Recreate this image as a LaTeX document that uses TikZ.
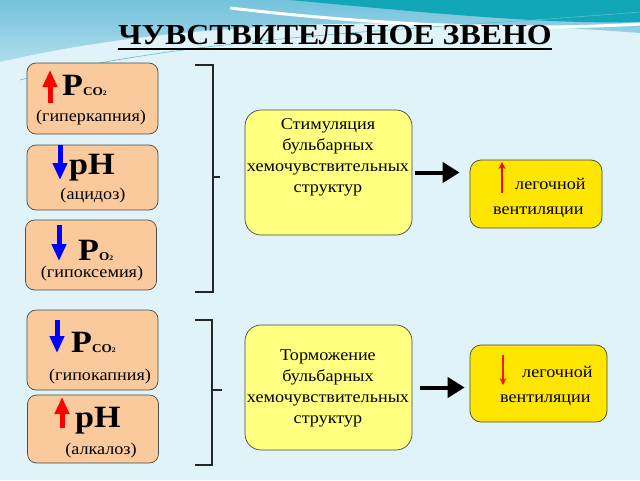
\documentclass[tikz,border=0pt]{standalone}
\usepackage{fontspec}
\setmainfont{Liberation Serif}[FakeStretch=1.1]
\usetikzlibrary{arrows, positioning, arrows.meta, shapes}

\definecolor{bgpale}{HTML}{DFF3F9}
\definecolor{bgsky}{HTML}{74C2DC}
\definecolor{bgteal}{HTML}{12A6B9}
\definecolor{peach}{HTML}{FAC99C}
\definecolor{paleyellow}{HTML}{FFFF80}
\definecolor{gold}{HTML}{FFE600}

\tikzset{
    sensor/.style={draw=gray!60!black, fill=peach, rounded corners=9pt, minimum width=131pt, line width=0.7pt},
    centre/.style={draw=gray!55!black, fill=paleyellow, rounded corners=16pt, minimum width=167pt, minimum height=125pt, line width=0.7pt},
    effect/.style={draw=gray!55!black, fill=gold, rounded corners=11pt, line width=0.7pt},
    big/.style={font=\fontsize{31}{31}\selectfont\bfseries, inner sep=0pt},
    small/.style={font=\fontsize{16.5}{16.5}\selectfont, inner sep=0pt},
    body/.style={font=\fontsize{16.5}{21}\selectfont, align=center, inner sep=0pt},
    fatup/.style={line width=5pt, arrows={-Triangle[length=17pt, width=14pt]}},
    bracket/.style={line width=2.5pt, black!85},
    push/.style={line width=4pt, arrows={-Triangle[length=17pt, width=20pt]}},
}
\newcommand{\gas}[2]{{\fontsize{12}{12}\selectfont\bfseries #1}{\fontsize{7}{7}\selectfont\bfseries #2}}

\begin{document}
\begin{tikzpicture}[x=1pt, y=-1pt]
    % Background
    \useasboundingbox (0,0) rectangle (640,480);
    \fill[bgpale] (0,0) rectangle (640,480);
    \shade[top color=bgsky, bottom color=bgsky!45!bgpale] (0,0) -- (640,0) -- (640,33) .. controls (450,18) and (200,15) .. (0,62) -- cycle;
    \fill[bgteal] (290,0) -- (640,0) -- (640,22) .. controls (540,25) and (400,10) .. (290,0) -- cycle;
    \draw[white, line width=3pt] (230,8) .. controls (400,28) and (540,30) .. (640,24);
    \draw[bgteal!70, line width=0.6pt] (20,80) .. controls (200,35) and (420,30) .. (640,12);

    % Title
    \node[font=\fontsize{29}{29}\selectfont\bfseries, inner sep=0pt, anchor=base] (title) at (335,44) {ЧУВСТВИТЕЛЬНОЕ ЗВЕНО};
    \draw[line width=2pt] ([yshift=-5pt]title.base west) -- ([yshift=-5pt]title.base east);

    % Nodes
    \node[sensor, minimum height=71pt] (hyper box) at (92.5,98.5) {};
    \node[sensor, minimum height=65pt] (acid box) at (92.5,177.5) {};
    \node[sensor, minimum height=70pt] (hypox box) at (91,255) {};
    \node[sensor, minimum height=80pt] (hypo box) at (92.5,350) {};
    \node[sensor, minimum height=68pt] (alk box) at (93,429) {};

    \node[big, anchor=base west] (hyper sym) at (62,95) {P\gas{CO}{2}};
    \node[small] (hyper txt) at (91,118) {(гиперкапния)};
    \node[big, anchor=base west] (acid sym) at (69,174) {pH};
    \node[small] (acid txt) at (93,196) {(ацидоз)};
    \node[big, anchor=base west] (hypox sym) at (78,260) {P\gas{O}{2}};
    \node[small] (hypox txt) at (92,274) {(гипоксемия)};
    \node[big, anchor=base west] (hypo sym) at (71,352) {P\gas{CO}{2}};
    \node[small] (hypo txt) at (100,377) {(гипокапния)};
    \node[big, anchor=base west] (alk sym) at (75,427) {pH};
    \node[small] (alk txt) at (101,451) {(алкалоз)};

    \draw[fatup, red] (50,103) -- (50,70);
    \draw[fatup, blue] (60,145) -- (60,180);
    \draw[fatup, blue] (59,225) -- (59,261);
    \draw[fatup, blue] (57,320) -- (57,353);
    \draw[fatup, red] (62,428) -- (62,397);

    \node[centre] (stim) at (328.5,172.5) {};
    \node[body] (stim txt) at (328,157) {Стимуляция\\бульбарных\\хемочувствительных\\структур};
    \node[centre] (inhib) at (328.5,387.5) {};
    \node[body] (inhib txt) at (328,388) {Торможение\\бульбарных\\хемочувствительных\\структур};

    \node[effect, minimum width=132pt, minimum height=68pt] (vent up) at (536,194) {};
    \node[body, anchor=base west] (vent up a) at (515,189) {легочной};
    \node[body, anchor=base west] (vent up b) at (493,214) {вентиляции};
    \node[effect, minimum width=137pt, minimum height=77pt] (vent down) at (538.5,383.5) {};
    \node[body, anchor=base west] (vent down a) at (522,377) {легочной};
    \node[body, anchor=base west] (vent down b) at (500,402) {вентиляции};
    \draw[red, line width=1.3pt, -{Stealth[length=7pt, width=7pt]}] (502,193) -- (502,162);
    \draw[red!85!orange, line width=1.3pt, -{Stealth[length=7pt, width=7pt]}] (503,355) -- (503,385);

    % Connections
    \draw[bracket] (195,65) -- (213,65) -- (213,292) -- (195,292);
    \draw[bracket] (213,177) -- (220,177);
    \draw[bracket] (195,320) -- (212,320) -- (212,465) -- (195,465);
    \draw[bracket] (212,390) -- (222,390);

    \draw[push, shorten <=3pt, shorten >=10pt] (stim) -- (vent up.west |- stim);
    \draw[push, shorten <=8pt, shorten >=5pt] (inhib.east) -- (vent down.west |- inhib.east);
\end{tikzpicture}
\end{document}
